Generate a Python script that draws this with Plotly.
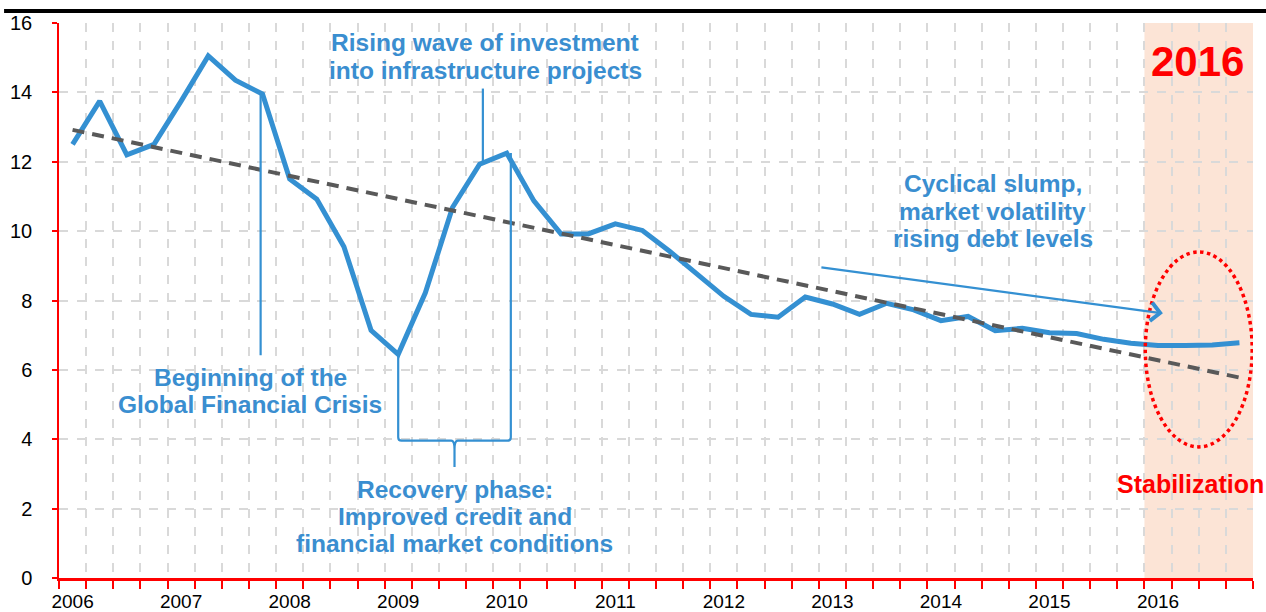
import plotly.graph_objects as go

# ---- data ----
years = ["2006", "2007", "2008", "2009", "2010", "2011", "2012", "2013", "2014", "2015", "2016"]
growth = [12.5, 13.75, 12.2, 12.5, 13.75, 15.05, 14.35, 13.95,
          11.5, 10.92, 9.55, 7.14, 6.45, 8.22, 10.68, 11.93,
          12.25, 10.87, 9.92, 9.92, 10.21, 10.02, 9.42, 8.75,
          8.12, 7.6, 7.52, 8.1, 7.9, 7.6, 7.92, 7.73,
          7.42, 7.54, 7.13, 7.2, 7.07, 7.05, 6.88, 6.77,
          6.7, 6.7, 6.72, 6.78]
trend = [12.92, 5.78]  # linear trend at first and last quarter
y_ticks = [0, 2, 4, 6, 8, 10, 12, 14, 16]

quarters = list(range(len(growth)))
trend_x = [quarters[0], quarters[-1]]
year_ticks = [i * 4 for i in range(len(years))]

BLUE = "#3490D2"
TXT_BLUE = "#3A8ED0"
RED = "#FF0000"
FONT = "Liberation Sans, Arial, sans-serif"

fig = go.Figure()
fig.add_trace(go.Scatter(x=quarters, y=growth, mode="lines",
                         line=dict(color=BLUE, width=5), showlegend=False,
                         hoverinfo="skip"))
fig.add_trace(go.Scatter(x=trend_x, y=trend, mode="lines",
                         line=dict(color="#595959", width=4, dash="12px,8px"),
                         showlegend=False, hoverinfo="skip"))

shapes = []
# 2016 shaded band
shapes.append(dict(type="rect", xref="x", yref="paper", x0=39.5, x1=43.5, y0=0, y1=1,
                   fillcolor="#FCE4D6", line=dict(width=0), layer="below"))
# Title underline (top black rule)
shapes.append(dict(type="line", xref="paper", yref="paper", x0=-0.046, x1=1.02,
                   y0=1.0216, y1=1.0216, line=dict(color="black", width=4)))
# GFC pointer
shapes.append(dict(type="line", xref="x", yref="y", x0=6.93, x1=6.93,
                   y0=growth[7], y1=6.42, line=dict(color=BLUE, width=2.2)))
# Rising wave pointer
shapes.append(dict(type="line", xref="x", yref="y", x0=15.12, x1=15.12,
                   y0=growth[15], y1=14.11, line=dict(color=BLUE, width=2.2)))
# Recovery bracket
dip_i = growth.index(min(growth[8:20]))
pk_i = 16
xl, xr = dip_i, pk_i + 0.15
xm = (xl + xr) / 2
yb, ys = 3.96, 3.2
path = (f"M {xl},{growth[dip_i]} V {yb+0.1} Q {xl},{yb} {xl+0.12},{yb} "
        f"H {xm-0.12} Q {xm},{yb} {xm},{yb-0.25} V {ys} "
        f"M {xm},{yb-0.25} Q {xm},{yb} {xm+0.12},{yb} "
        f"H {xr-0.12} Q {xr},{yb} {xr},{yb+0.1} V {growth[pk_i]}")
shapes.append(dict(type="path", xref="x", yref="y", path=path,
                   line=dict(color=BLUE, width=2.2)))
# Stabilization ellipse
shapes.append(dict(type="circle", xref="x", yref="y", x0=39.53, x1=43.47, y0=3.78, y1=9.4,
                   line=dict(color=RED, width=3.5, dash="dot")))

annotations = []
def txt(x, y, s, size=24.5, color=TXT_BLUE):
    annotations.append(dict(x=x, y=y, xref="x", yref="y", text=f"<b>{s}</b>",
                            showarrow=False, xanchor="center", yanchor="middle",
                            font=dict(family=FONT, size=size, color=color)))

txt(15.21, 15.45, "Rising wave of investment")
txt(15.21, 14.64, "into infrastructure projects")
txt(6.55, 5.78, "Beginning of the")
txt(6.55, 5.0, "Global Financial Crisis")
txt(14.09, 2.55, "Recovery phase:")
txt(14.09, 1.77, "Improved credit and")
txt(14.09, 0.99, "financial market conditions")
txt(33.91, 11.38, "Cyclical slump,")
txt(33.91, 10.57, "market volatility")
txt(33.91, 9.79, "rising debt levels")
txt(41.47, 14.9, "2016", size=42, color=RED)
txt(41.2, 2.7, "Stabilization", size=25, color=RED)

# Cyclical slump arrow
annotations.append(dict(x=40.18, y=7.63, ax=27.54, ay=8.96, xref="x", yref="y",
                        axref="x", ayref="y", showarrow=True, text="",
                        arrowhead=4, arrowsize=1.6, arrowwidth=2.2, arrowcolor=BLUE))

fig.update_layout(
    width=1266, height=612,
    margin=dict(l=59, r=13, t=23, b=34, autoexpand=False),
    paper_bgcolor="white", plot_bgcolor="white",
    font=dict(family=FONT, size=20, color="black"),
    shapes=shapes, annotations=annotations,
    showlegend=False,
    xaxis=dict(range=[-0.5, 43.5], tickmode="array", tickvals=year_ticks, ticktext=years,
               ticks="", showgrid=False, zeroline=False, automargin=False,
               showline=True, linecolor=RED, linewidth=2.5,
               tickfont=dict(family=FONT, size=19, color="black"),
               ticklabelstandoff=4,
               minor=dict(tick0=-0.5, dtick=1, ticks="outside", ticklen=8,
                          tickcolor=RED, tickwidth=1.5, showgrid=True,
                          gridcolor="#D9D9D9", gridwidth=1.5, griddash="dash")),
    yaxis=dict(range=[0, 16], tickmode="array", tickvals=y_ticks,
               ticks="outside", ticklen=5, tickcolor=RED, tickwidth=1.5,
               showgrid=True, gridcolor="#D9D9D9", gridwidth=1.5, griddash="dash",
               zeroline=False, showline=True, linecolor=RED, linewidth=1.5,
               automargin=False,
               tickfont=dict(family=FONT, size=20, color="black"),
               ticklabelstandoff=16),
)

fig.write_html("out.html", config={"displayModeBar": False},
               post_script="document.body.style.margin='0';document.body.style.padding='0';")
